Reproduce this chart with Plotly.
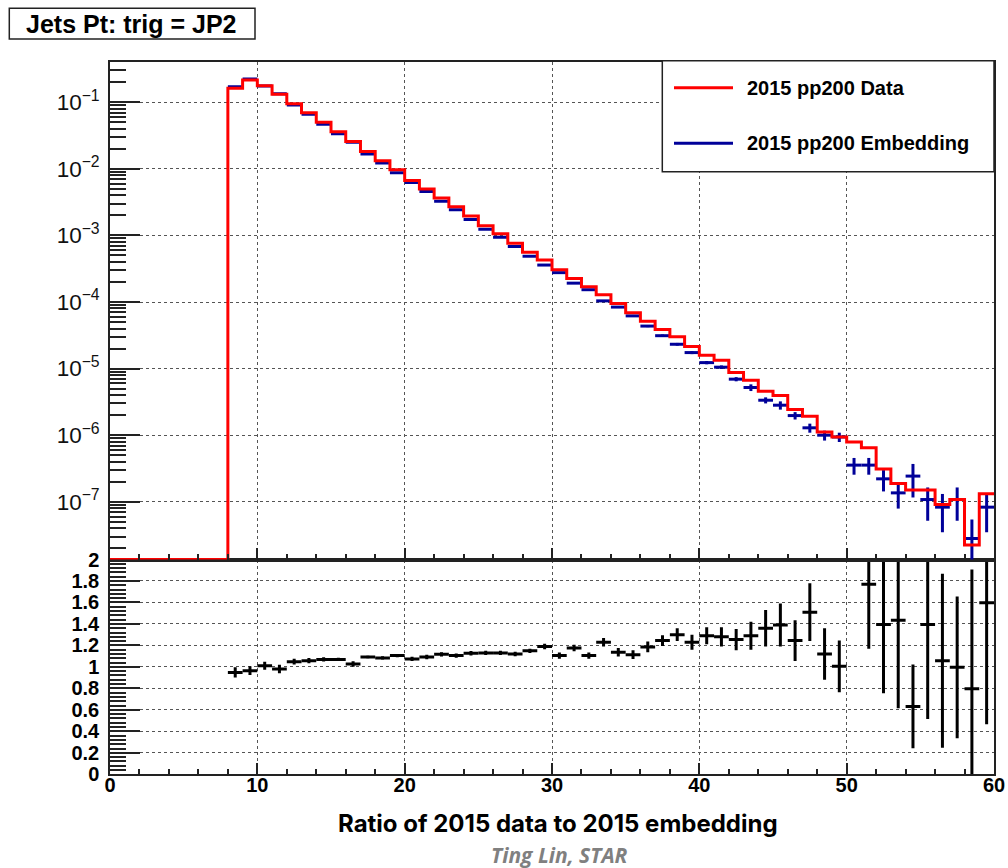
import plotly.graph_objects as go

# ---------------- data ----------------
# jet pT histogram, 1 GeV bins from 0 to 60
bin_edges = [0, 1, 2, 3, 4, 5, 6, 7, 8, 9, 10, 11, 12, 13, 14, 15, 16, 17, 18, 19,
             20, 21, 22, 23, 24, 25, 26, 27, 28, 29, 30, 31, 32, 33, 34, 35, 36, 37, 38, 39,
             40, 41, 42, 43, 44, 45, 46, 47, 48, 49, 50, 51, 52, 53, 54, 55, 56, 57, 58, 59, 60]

# 2015 pp200 data (normalised), one value per bin
data_vals = [0, 0, 0, 0, 0, 0, 0, 0,
             0.162, 0.216, 0.177, 0.132, 0.095, 0.0698, 0.050, 0.036, 0.0257, 0.0182,
             0.0132, 0.00966, 0.00668, 0.0050, 0.00364, 0.00270, 0.00195, 0.00140, 0.00106, 0.00076,
             0.00056, 0.000427, 0.000305, 0.000226, 0.000169, 0.000128, 9.53e-5, 6.90e-5, 5.16e-5, 3.88e-5,
             3.01e-5, 2.14e-5, 1.59e-5, 1.34e-5, 8.7e-6, 6.7e-6, 4.57e-6, 3.94e-6, 2.43e-6, 1.93e-6,
             1.12e-6, 9.4e-7, 7.9e-7, 6.5e-7, 3.1e-7, 1.88e-7, 1.5e-7, 1.5e-7, 9.1e-8, 1.08e-7,
             2.24e-8, 1.32e-7]

# 2015 pp200 embedding (normalised) and its statistical errors, None = empty bin
emb_vals = [None, None, None, None, None, None, None, None,
            0.1707, 0.2238, 0.1752, 0.1347, 0.0906, 0.0660, 0.0467, 0.0336, 0.0250, 0.01667,
            0.01219, 0.00874, 0.00622, 0.00458, 0.00326, 0.00244, 0.00173, 0.00124, 0.000938, 0.000679,
            0.000487, 0.000359, 0.000276, 0.000192, 0.000153, 0.000104, 8.39e-5, 6.19e-5, 4.35e-5, 3.12e-5,
            2.32e-5, 1.74e-5, 1.23e-5, 1.05e-5, 6.94e-6, 5.2e-6, 3.35e-6, 2.82e-6, 1.97e-6, 1.29e-6,
            1.0e-6, 9.4e-7, 3.55e-7, 3.55e-7, 2.21e-7, 1.36e-7, 2.43e-7, 1.08e-7, 8.3e-8, 1.08e-7,
            2.8e-8, 8.3e-8]
emb_errs = [None, None, None, None, None, None, None, None,
            0.003, 0.003, 0.003, 0.002, 0.0015, 0.001, 0.0007, 0.0005, 0.0004, 0.00025,
            0.00018, 0.00013, 9e-5, 7e-5, 5e-5, 4e-5, 3e-5, 2.2e-5, 1.7e-5, 1.3e-5,
            1e-5, 8e-6, 6.5e-6, 5e-6, 4e-6, 3e-6, 2.6e-6, 2e-6, 1.6e-6, 1.3e-6,
            1.1e-6, 9e-7, 7e-7, 6.5e-7, 5e-7, 6e-7, 3.5e-7, 4e-7, 2.5e-7, 2e-7,
            1.7e-7, 1.5e-7, 1.0e-7, 1.0e-7, 7.8e-8, 5.7e-8, 1.27e-7, 5.6e-8, 4.8e-8, 5.6e-8,
            2.6e-8, 4.8e-8]

# data / embedding ratio and its errors
ratio_vals = [None, None, None, None, None, None, None, None,
              0.949, 0.965, 1.01, 0.98, 1.049, 1.058, 1.07, 1.07, 1.027, 1.092,
              1.083, 1.105, 1.074, 1.092, 1.117, 1.105, 1.127, 1.13, 1.13, 1.12,
              1.15, 1.19, 1.105, 1.176, 1.105, 1.23, 1.136, 1.114, 1.186, 1.245,
              1.30, 1.23, 1.29, 1.28, 1.254, 1.29, 1.36, 1.39, 1.245, 1.51,
              1.12, 1.005, 2.22, 1.77, 1.394, 1.435, 0.632, 1.394, 1.058, 0.996,
              0.797, 1.597]
ratio_errs = [None, None, None, None, None, None, None, None,
              0.047, 0.04, 0.037, 0.04, 0.026, 0.025, 0.02, 0.015, 0.025, 0.012,
              0.015, 0.015, 0.02, 0.02, 0.02, 0.02, 0.02, 0.02, 0.02, 0.02,
              0.02, 0.025, 0.03, 0.03, 0.03, 0.04, 0.04, 0.04, 0.05, 0.05,
              0.06, 0.07, 0.08, 0.09, 0.1, 0.13, 0.17, 0.2, 0.19, 0.27,
              0.24, 0.24, 0.9, 0.6, 0.64, 0.82, 0.39, 0.88, 0.81, 0.66,
              1.11, 1.13]

# ---------------- layout geometry (pixels of a 1008x868 canvas) ----------------
W, H = 1008, 868
FRAME_L, FRAME_R = 110, 994
UP_TOP, SPLIT, LOW_BOT = 61.7, 559.5, 774.3
LOGY_RANGE = [-7.867, -0.391]
RATIO_RANGE = [0, 2]

def px(x):
    return x / W

def py(y):
    return 1 - y / H

AXIS_COL = "#222222"
GRID_COL = "#555555"
RED = "#ff0000"
BLUE = "#000099"

centers = [0.5 * (bin_edges[i] + bin_edges[i + 1]) for i in range(len(data_vals))]
half_w = 0.5 * (bin_edges[1] - bin_edges[0])

fig = go.Figure()

# embedding: crosses with horizontal bin-width bars
emb_idx = [i for i, v in enumerate(emb_vals) if v is not None]
fig.add_trace(go.Scatter(
    x=[centers[i] for i in emb_idx], y=[emb_vals[i] for i in emb_idx],
    mode="markers", marker=dict(size=1, color=BLUE),
    error_y=dict(type="data", array=[emb_errs[i] for i in emb_idx], width=0, thickness=3, color=BLUE),
    error_x=dict(type="constant", value=half_w, width=0, thickness=3, color=BLUE),
    xaxis="x2", yaxis="y", hoverinfo="skip"))

# data: step histogram; empty bins sit on the frame floor
floor = 10 ** LOGY_RANGE[0]
step_y = [v if v > 0 else floor for v in data_vals]
fig.add_trace(go.Scatter(
    x=bin_edges, y=step_y + [step_y[-1]],
    mode="lines", line=dict(color=RED, width=3, shape="hv"),
    xaxis="x2", yaxis="y", hoverinfo="skip"))

# ratio: points outside the pad range are not drawn
r_idx = [i for i, v in enumerate(ratio_vals) if v is not None and v <= RATIO_RANGE[1]]
fig.add_trace(go.Scatter(
    x=[centers[i] for i in r_idx], y=[ratio_vals[i] for i in r_idx],
    mode="markers", marker=dict(size=1, color="black"),
    error_y=dict(type="data", array=[ratio_errs[i] for i in r_idx], width=0, thickness=3, color="black"),
    error_x=dict(type="constant", value=half_w, width=0, thickness=3, color="black"),
    xaxis="x", yaxis="y2", hoverinfo="skip"))

tick_common = dict(ticks="inside", tickcolor=AXIS_COL, tickwidth=1.5,
                   showline=True, linecolor=AXIS_COL, linewidth=1.5, mirror=True,
                   zeroline=False, showgrid=True, gridcolor=GRID_COL, gridwidth=1, griddash="dot",
                   automargin=False)

xdom = [px(FRAME_L), px(FRAME_R)]

fig.update_layout(
    width=W, height=H, margin=dict(l=0, r=0, t=0, b=0, autoexpand=False),
    paper_bgcolor="white", plot_bgcolor="white", showlegend=False,
    # lower pad x axis (with labels)
    xaxis=dict(domain=xdom, anchor="y2", range=[0, 60], tick0=0, dtick=10, ticklen=12,
               minor=dict(ticks="inside", dtick=2, ticklen=6, tickwidth=1.5, tickcolor=AXIS_COL, showgrid=False),
               tickfont=dict(family="Liberation Sans", size=20, color="black", weight="bold"),
               ticklabelstandoff=-8, **tick_common),
    # upper pad x axis
    xaxis2=dict(domain=xdom, anchor="y", range=[0, 60], tick0=0, dtick=10, ticklen=12,
                showticklabels=False,
                minor=dict(ticks="inside", dtick=2, ticklen=6, tickwidth=1.5, tickcolor=AXIS_COL, showgrid=False),
                **tick_common),
    # upper pad y axis (log)
    yaxis=dict(domain=[py(SPLIT), py(UP_TOP)], anchor="x2", type="log", range=LOGY_RANGE,
               dtick=1, exponentformat="power", ticklen=30,
               minor=dict(ticks="inside", dtick="D1", ticklen=16, tickwidth=1.5, tickcolor=AXIS_COL, showgrid=False),
               tickfont=dict(family="Liberation Sans", size=18, color="#111111"),
               ticklabelstandoff=5, **tick_common),
    # lower pad y axis (ratio)
    yaxis2=dict(domain=[py(LOW_BOT), py(SPLIT)], anchor="x", range=RATIO_RANGE,
                tick0=0, dtick=0.2, ticklen=30,
                minor=dict(ticks="inside", dtick=0.04, ticklen=16, tickwidth=1.5, tickcolor=AXIS_COL, showgrid=False),
                tickfont=dict(family="Liberation Sans", size=20, color="black", weight="bold"),
                ticklabelstandoff=5, **tick_common),
)

# legend box
LEG = dict(x0=662.3, x1=FRAME_R, y0=60.7, y1=171.7)
shapes = [
    dict(type="rect", xref="paper", yref="paper", x0=px(LEG["x0"]), x1=px(LEG["x1"]),
         y0=py(LEG["y1"]), y1=py(LEG["y0"]), line=dict(color=AXIS_COL, width=1.5),
         fillcolor="white", layer="above"),
    dict(type="line", xref="paper", yref="paper", x0=px(674), x1=px(733), y0=py(87.7), y1=py(87.7),
         line=dict(color=RED, width=3), layer="above"),
    dict(type="line", xref="paper", yref="paper", x0=px(674), x1=px(733), y0=py(143.3), y1=py(143.3),
         line=dict(color=BLUE, width=3), layer="above"),
    # title box
    dict(type="rect", xref="paper", yref="paper", x0=px(9.3), x1=px(255), y0=py(39), y1=py(8.3),
         line=dict(color=AXIS_COL, width=1.5), fillcolor="white", layer="above"),
]
fig.update_layout(shapes=shapes)

legend_font = dict(family="Liberation Sans", size=20, color="black", weight="bold")
annotations = [
    dict(text="2015 pp200 Data", x=px(745), y=py(87.7), xref="paper", yref="paper",
         xanchor="left", yanchor="middle", showarrow=False, font=legend_font),
    dict(text="2015 pp200 Embedding", x=px(745), y=py(143.3), xref="paper", yref="paper",
         xanchor="left", yanchor="middle", showarrow=False, font=legend_font),
    dict(text="Jets Pt: trig = JP2", x=px(131), y=py(23.7), xref="paper", yref="paper",
         xanchor="center", yanchor="middle", showarrow=False,
         font=dict(family="Liberation Sans", size=25, color="black", weight="bold")),
    dict(text="Ratio of 2015 data to 2015 embedding", x=px(557.5), y=py(823), xref="paper", yref="paper",
         xanchor="center", yanchor="middle", showarrow=False,
         font=dict(family="Inter", size=24, color="black", weight="bold")),
    dict(text="Ting Lin, STAR", x=px(559), y=py(855), xref="paper", yref="paper",
         xanchor="center", yanchor="middle", showarrow=False,
         font=dict(family="Open Sans", size=21, color="#808080", weight="bold", style="italic")),
]
fig.update_layout(annotations=annotations)

# page without body margin so the 1008x868 figure fills the window exactly
fig.write_html("out.html",
               post_script="document.body.style.margin='0';document.body.style.overflow='hidden';")
